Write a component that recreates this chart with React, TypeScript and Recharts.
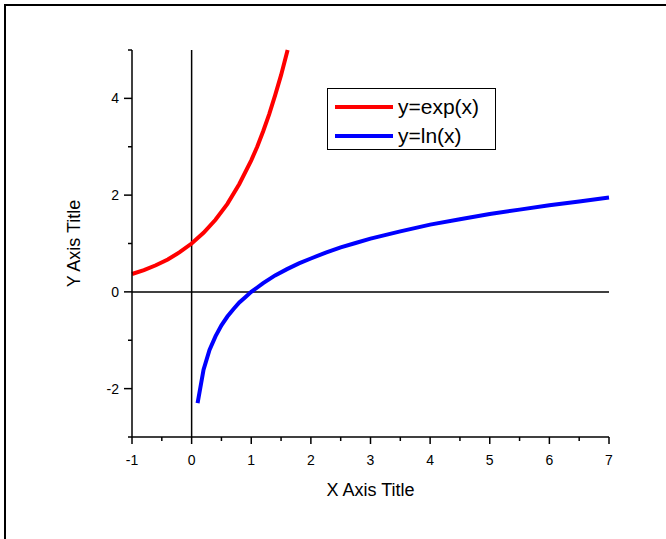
import React from 'react';
import { LineChart, Line, XAxis, YAxis, ReferenceLine, Legend } from 'recharts';

const expX = [-1, -0.8, -0.6, -0.4, -0.2, 0, 0.2, 0.4, 0.6, 0.8, 1, 1.1, 1.2, 1.3, 1.4, 1.5, 1.61];
const expY = [0.37, 0.45, 0.55, 0.67, 0.82, 1.0, 1.22, 1.49, 1.82, 2.23, 2.72, 3.0, 3.32, 3.67, 4.06, 4.48, 5.0];
const lnX = [0.1, 0.2, 0.3, 0.4, 0.5, 0.6, 0.7, 0.8, 0.9, 1, 1.2, 1.4, 1.6, 1.8, 2, 2.25, 2.5, 2.75, 3, 3.5, 4, 4.5, 5, 5.5, 6, 6.5, 7];
const lnY = [-2.3, -1.61, -1.2, -0.92, -0.69, -0.51, -0.36, -0.22, -0.11, 0, 0.18, 0.34, 0.47, 0.59, 0.69, 0.81, 0.92, 1.01, 1.1, 1.25, 1.39, 1.5, 1.61, 1.7, 1.79, 1.87, 1.95];
const xTicks = [-1, -0.5, 0, 0.5, 1, 1.5, 2, 2.5, 3, 3.5, 4, 4.5, 5, 5.5, 6, 6.5, 7];
const xLabels = [-1, 0, 1, 2, 3, 4, 5, 6, 7];
const yTicks = [-3, -2, -1, 0, 1, 2, 3, 4, 5];
const yLabels = [-2, 0, 2, 4];

const expData = expX.map((x, i) => ({ x, y: expY[i] }));
const lnData = lnX.map((x, i) => ({ x, y: lnY[i] }));

const FONT = '"Liberation Sans", Arial, sans-serif';

const XTick = (props: any) => {
  const { x, y, payload } = props;
  const major = xLabels.includes(payload.value);
  return (
    <g>
      <line x1={x} y1={y} x2={x} y2={y + (major ? 7 : 4)} stroke="#000" strokeWidth={1.5} />
      {major && (
        <text x={x} y={y + 28} textAnchor="middle" fontSize={14} fontFamily={FONT} fill="#000">
          {payload.value}
        </text>
      )}
    </g>
  );
};

const YTick = (props: any) => {
  const { x, y, payload } = props;
  const major = yLabels.includes(payload.value);
  return (
    <g>
      <line x1={x} y1={y} x2={x - (major ? 8 : 4)} y2={y} stroke="#000" strokeWidth={1.5} />
      {major && (
        <text x={x - 13} y={y + 5} textAnchor="end" fontSize={14} fontFamily={FONT} fill="#000">
          {payload.value}
        </text>
      )}
    </g>
  );
};

const LegendBox = (props: any) => {
  const items = props.payload || [];
  return (
    <div
      style={{
        border: '1px solid #000',
        background: '#fff',
        width: 169,
        height: 62,
        boxSizing: 'border-box',
        paddingTop: 3,
        fontFamily: FONT,
      }}
    >
      {items.map((it: any) => (
        <div key={it.value} style={{ display: 'flex', alignItems: 'center', height: 29 }}>
          <div style={{ width: 58, height: 4, background: it.color, marginLeft: 7, marginRight: 5 }} />
          <span style={{ fontSize: 21, lineHeight: '29px', color: '#000' }}>{it.value}</span>
        </div>
      ))}
    </div>
  );
};

export default function App() {
  return (
    <div style={{ position: 'absolute', left: 0, top: 0, width: 666, height: 539, overflow: 'hidden', background: '#fff' }}>
      <div
        style={{
          position: 'absolute',
          left: 4,
          top: 4,
          width: 700,
          height: 600,
          borderLeft: '2px solid #000',
          borderTop: '2px solid #000',
        }}
      />
      <div style={{ position: 'absolute', left: 0, top: 0 }}>
        <LineChart width={666} height={539} margin={{ top: 50, right: 57, bottom: 72, left: 72 }}>
          <XAxis
            dataKey="x"
            type="number"
            domain={[-1, 7]}
            ticks={xTicks}
            interval={0}
            allowDuplicatedCategory={false}
            tickSize={0}
            tickMargin={0}
            tickLine={false}
            axisLine={{ stroke: '#000', strokeWidth: 1.5 }}
            tick={<XTick />}
            height={30}
            label={{ value: 'X Axis Title', position: 'insideBottom', offset: -29, fontSize: 18, fontFamily: FONT, fill: '#000' }}
          />
          <YAxis
            type="number"
            domain={[-3, 5]}
            ticks={yTicks}
            interval={0}
            tickSize={0}
            tickMargin={0}
            tickLine={false}
            axisLine={{ stroke: '#000', strokeWidth: 1.5 }}
            tick={<YTick />}
            width={60}
            label={{ value: 'Y Axis Title', angle: -90, position: 'insideLeft', offset: 2, style: { textAnchor: 'middle' }, fontSize: 18, fontFamily: FONT, fill: '#000' }}
          />
          <ReferenceLine x={0} stroke="#000" strokeWidth={1.5} />
          <ReferenceLine y={0} stroke="#000" strokeWidth={1.5} />
          <Legend
            layout="vertical"
            align="center"
            verticalAlign="middle"
            content={<LegendBox />}
            wrapperStyle={{ position: 'absolute', left: 327, top: 88, width: 169, height: 62 }}
          />
          <Line data={expData} dataKey="y" name="y=exp(x)" stroke="#ff0000" strokeWidth={4} dot={false} isAnimationActive={false} type="linear" />
          <Line data={lnData} dataKey="y" name="y=ln(x)" stroke="#0000ff" strokeWidth={4} dot={false} isAnimationActive={false} type="linear" />
        </LineChart>
      </div>
    </div>
  );
}
